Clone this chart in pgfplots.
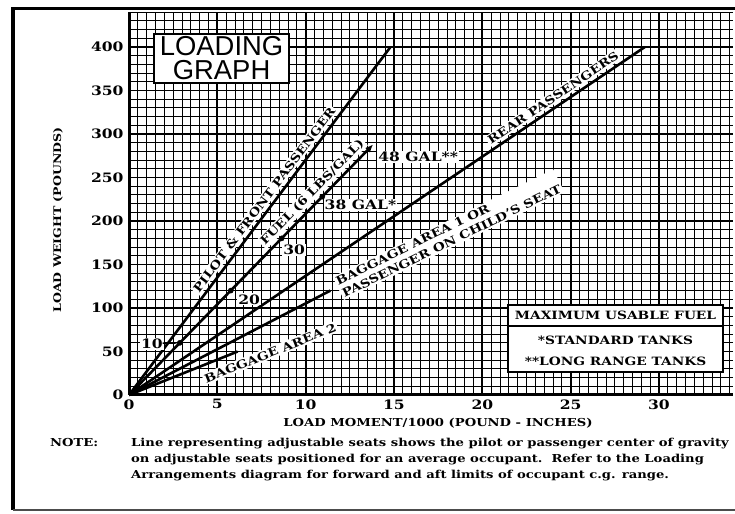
\documentclass[border=0pt]{standalone}
\usepackage{fontspec}
\setmainfont{DejaVu Serif}[FakeStretch=1.2]
\newfontfamily\lgsans{Liberation Sans}
\usepackage{pgfplots}
\pgfplotsset{compat=1.18}
\usetikzlibrary{arrows.meta}
\newcommand\tk{\fontsize{13}{13}\selectfont\bfseries}
\newcommand\lbl{\fontsize{11.5}{14}\selectfont\bfseries}
\newcommand\fbx{\fontsize{11.5}{14}\selectfont\bfseries}
\newcommand\ntf{\fontsize{11}{16}\selectfont\bfseries}
\begin{document}
\begin{tikzpicture}
\path[use as bounding box, fill=white] (0bp,0bp) rectangle (735bp,514bp);
\begin{axis}[
  at={(129bp,119bp)}, anchor=south west,
  scale only axis, width=604bp, height=382.8bp,
  xmin=0, xmax=34.19, ymin=0, ymax=440,
  enlargelimits=false,
  axis lines=left, axis line style={-, line width=3bp},
  xtick={0,5,...,30}, ytick={0,100,...,400},
  extra y ticks={50,150,250,350},
  extra y tick style={major grid style={line width=1bp, black}},
  minor xtick={0,0.5,...,34}, minor ytick={0,10,...,440},
  grid=both,
  major grid style={line width=2.2bp, black},
  minor grid style={line width=0.8bp, black},
  major tick length=0pt, minor tick length=0pt,
  tick label style={font=\tk},
  /pgf/number format/assume math mode=true,
  xticklabel style={yshift=-1bp},
  yticklabel style={xshift=-2bp},
  clip=false,
]
\addplot[line width=2.6bp, black] coordinates {(0,0) (14.8,400)}
  node[pos=0.545, sloped, above=2bp, fill=white, inner sep=1.5bp, font=\lbl] {PILOT \& FRONT PASSENGER};
\addplot[line width=2.6bp, black, -{Latex[length=8bp,width=7bp]}] coordinates {(0,0) (13.82,288)}
  node[pos=0.78, sloped, above=2bp, fill=white, inner sep=1.5bp, font=\lbl] {FUEL (6 LBS/GAL)};
\addplot[line width=2.6bp, black] coordinates {(0,0) (29.2,400)}
  node[pos=0.832, sloped, above=2bp, fill=white, inner sep=1.5bp, font=\lbl] {REAR PASSENGERS};
\addplot[line width=2.6bp, black] coordinates {(0,0) (11.4,120)};
\addplot[line width=2.6bp, black] coordinates {(0,0) (6.15,50)};
% fuel quantity labels
\node[font=\tk, fill=white, inner sep=1bp] at (axis cs:1.30,58.6) {10};
\draw[line width=1.5bp] (axis cs:1.9,59.5) -- (axis cs:2.7,59.8);
\node[font=\tk, fill=white, inner sep=1bp] at (axis cs:6.80,110) {20};
\node[font=\tk, fill=white, inner sep=1bp] at (axis cs:9.35,166.7) {30};
\node[font=\tk, fill=white, inner sep=1bp] at (axis cs:13.10,218.4) {38 GAL*};
\node[font=\tk, fill=white, inner sep=1bp, anchor=west] at (axis cs:14.05,274) {48 GAL**};
\addplot[only marks, mark=*, mark size=2.6bp, black] coordinates {(2.88,60) (5.76,120) (8.64,180) (10.94,228)};
% baggage labels
\node[font=\lbl, fill=white, inner sep=1.5bp, rotate=26, anchor=west, align=left] at (axis cs:11.84,122.4) {BAGGAGE AREA 1 OR\\PASSENGER ON CHILD'S SEAT};
\node[font=\lbl, fill=white, inner sep=1.5bp, rotate=21.8] at (axis cs:8,48.3) {BAGGAGE AREA 2};
% title box
\node[draw, line width=2bp, fill=white, inner xsep=6bp, inner ysep=3bp, align=center, font=\lgsans\fontsize{27.5}{24}\selectfont] at (axis cs:5.24,387) {LOADING\\GRAPH};
% fuel box
\draw[line width=2.6bp, fill=white] (axis cs:21.45,26.4) rectangle (axis cs:33.62,103.4);
\draw[line width=2.6bp] (axis cs:21.45,79.3) -- (axis cs:33.62,79.3);
\node[font=\fbx] at (axis cs:27.54,92) {MAXIMUM USABLE FUEL};
\node[font=\fbx] at (axis cs:27.54,63.2) {*STANDARD TANKS};
\node[font=\fbx] at (axis cs:27.54,39) {**LONG RANGE TANKS};
\end{axis}
% axis titles
\node[font=\fontsize{11}{13}\selectfont\bfseries] at (438bp,91bp) {LOAD MOMENT/1000 (POUND - INCHES)};
\node[font=\fontsize{10.5}{13}\selectfont\bfseries, rotate=90] at (58bp,294bp) {LOAD WEIGHT (POUNDS)};
% note
\node[font=\ntf, anchor=north west, inner sep=0pt] at (50bp,76bp) {NOTE:};
\node[font=\ntf, anchor=north west, inner sep=0pt, align=left] at (131bp,76bp) {Line representing adjustable seats shows the pilot or passenger center of gravity\\on adjustable seats positioned for an average occupant.\ \ Refer to the Loading\\Arrangements diagram for forward and aft limits of occupant c.g. range.};
% frame
\draw[line width=3.5bp] (13bp,505bp) -- (13bp,4bp);
\draw[line width=3bp] (11.25bp,505bp) -- (735bp,505bp);
\draw[line width=1.5bp, black!70] (13bp,4bp) -- (735bp,4bp);
\end{tikzpicture}
\end{document}
